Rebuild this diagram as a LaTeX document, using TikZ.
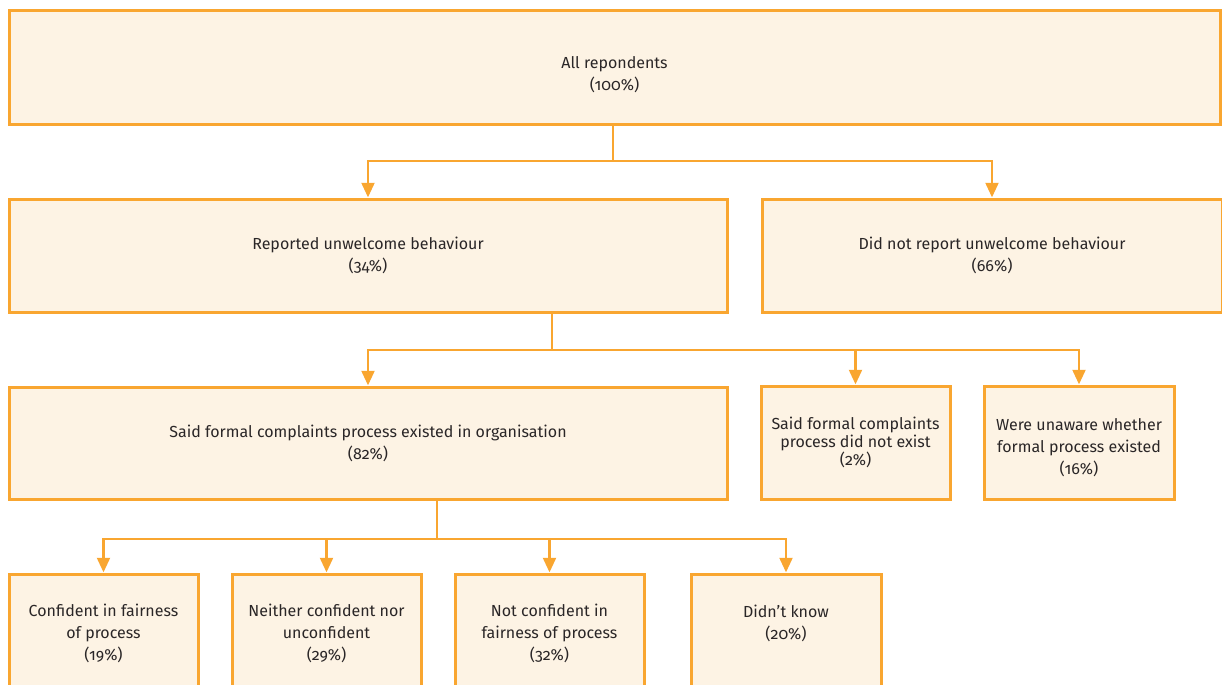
\documentclass[tikz,border=0pt]{standalone}
\usepackage{fontspec}
\setmainfont[Numbers=OldStyle]{Fira Sans}
\usetikzlibrary{arrows.meta}
\definecolor{oline}{HTML}{F9A630}
\definecolor{ofill}{HTML}{FDF3E4}
\definecolor{txt}{HTML}{2A2627}
\tikzset{
  bx/.style 2 args={draw=oline, fill=ofill, line width=2.25pt, inner sep=0pt,
    minimum width=#1*0.75pt, minimum height=#2*0.75pt, text=txt, align=center,
    font=\fontsize{12}{16.5}\selectfont},
  conn/.style={draw=oline, line width=2.2pt, -{Triangle[length=11pt,width=9.5pt]}},
  plain/.style={draw=oline, line width=2.2pt}
}
\begin{document}
\begin{tikzpicture}[x=0.75pt,y=-0.75pt]
\useasboundingbox (0,0) rectangle (1222,685);
\clip (0,0) rectangle (1222,685);
% boxes
\node[bx={1211}{114}] (top) at (614.5,68) {\rule{0pt}{19pt}All repondents\\(100\%)};
\node[bx={718}{113}] (rep) at (368,255.5) {Reported unwelcome behaviour\\(34\%)};
\node[bx={460}{113}] (notrep) at (992,255.5) {Did not report unwelcome behaviour\\(66\%)};
\node[bx={718}{112}] (formal) at (368,443) {Said formal complaints process existed in organisation\\(82\%)};
\node[bx={189}{113}, font=\fontsize{12}{13.5}\selectfont] (noexist) at (855.5,442.5) {Said formal complaints\\process did not exist\\(2\%)};
\node[bx={190}{113}] (unaware) at (1079,442.5) {\rule{0pt}{16pt}Were unaware whether\\formal process existed\\(16\%)};
\node[bx={189}{118}] (conf) at (103.5,633) {Confident in fairness\\of process\\(19\%)};
\node[bx={189}{118}] (neith) at (326.5,633) {Neither confident nor\\unconfident\\(29\%)};
\node[bx={189}{118}] (notconf) at (549.5,633) {Not confident in\\fairness of process\\(32\%)};
\node[bx={190}{118}] (dk) at (786,633) {Didn’t know\\(20\%)\\\mbox{}};
% junction coordinates
\coordinate (j1) at (613,161);
\coordinate (j2) at (552,350);
\coordinate (j3) at (437,539);
% connectors
\draw[plain] (top.south -| j1) -- (j1);
\draw[conn] (j1) -| (rep.north);
\draw[conn] (j1) -| (notrep.north);
\draw[plain] (rep.south -| j2) -- (j2);
\draw[conn] (j2) -| (formal.north);
\draw[conn] (j2) -| (noexist.north);
\draw[conn] (j2) -| (unaware.north);
\draw[plain] (formal.south -| j3) -- (j3);
\draw[conn] (j3) -| (conf.north);
\draw[conn] (j3) -| (neith.north);
\draw[conn] (j3) -| (notconf.north);
\draw[conn] (j3) -| (dk.north);
\end{tikzpicture}
\end{document}
